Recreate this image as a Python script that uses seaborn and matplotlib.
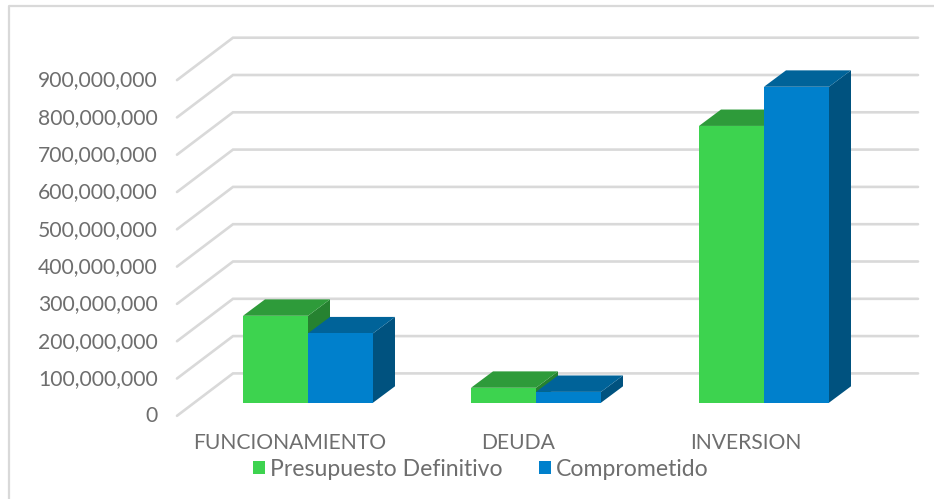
import matplotlib
matplotlib.use("Agg")
import matplotlib.pyplot as plt
from matplotlib.patches import Polygon, Rectangle
from matplotlib.lines import Line2D
from matplotlib.transforms import ScaledTranslation
import pandas as pd
import seaborn as sns

categories = ["FUNCIONAMIENTO", "DEUDA", "INVERSION"]
presupuesto = [233000000, 40000000, 742000000]
comprometido = [186000000, 29000000, 847000000]
series_names = ["Presupuesto Definitivo", "Comprometido"]
tick_values = [0, 100000000, 200000000, 300000000, 400000000, 500000000,
               600000000, 700000000, 800000000, 900000000]
front_colors = ["#3DD34F", "#0080CC"]
top_colors = ["#2E9B3A", "#006399"]
side_colors = ["#268230", "#00527F"]
GRID = "#D9D9D9"
TEXT = "#6E6E6E"

W, H = 934, 499
sns.set_theme(style="white")
plt.rcParams["font.family"] = ["Lato", "DejaVu Sans"]

fig = plt.figure(figsize=(W / 100, H / 100), dpi=100)
L, R, T, B = 177, 918, 37.7, 416
ax = fig.add_axes([L / W, 1 - B / H, (R - L) / W, (B - T) / H])

df = pd.DataFrame({
    "cat": categories * 2,
    "serie": [series_names[0]] * 3 + [series_names[1]] * 3,
    "valor": presupuesto + comprometido,
})
sns.barplot(data=df, x="cat", y="valor", hue="serie", order=categories,
            hue_order=series_names, palette=front_colors, saturation=1,
            width=130 / 228, gap=0, dodge=True, legend=False, ax=ax, zorder=5,
            linewidth=0, edgecolor="none")

PX_X = 1 / 228          # category units per pixel
PX_Y = 1e8 / 37.3       # value units per pixel
BASE = 402.7
ax.set_xlim((L - 308) * PX_X, (R - 308) * PX_X)
ax.set_ylim((BASE - B) * PX_Y, (BASE - T) * PX_Y)

# walls: floor-to-back gridlines
x0 = ax.get_xlim()[0]
x1 = ax.get_xlim()[1]
for v in tick_values:
    front_y = v + (BASE - 415.8) * PX_Y
    back_y = v + (BASE - 373.4) * PX_Y
    ax.plot([x0, x0 + 56 * PX_X, x1], [front_y, back_y, back_y],
            color=GRID, lw=1.9, zorder=1, clip_on=False, solid_joinstyle="miter")

# 3D faces derived from the bars that seaborn drew
ddx, ddy = 22 * PX_X, 16.4 * PX_Y
z = 5
groups = list(ax.containers)
for i in range(len(categories)):
    for g, cont in enumerate(groups):
        bar = cont.patches[i]
        xa, w, h = bar.get_x(), bar.get_width(), bar.get_height()
        xb = xa + w
        side = Polygon([(xb, 0), (xb + ddx, ddy), (xb + ddx, h + ddy), (xb, h)],
                       closed=True, fc=side_colors[g], ec="none", zorder=z)
        top = Polygon([(xa, h), (xa + ddx, h + ddy), (xb + ddx, h + ddy), (xb, h)],
                      closed=True, fc=top_colors[g], ec="none", zorder=z)
        ax.add_patch(side)
        ax.add_patch(top)
        bar.set_zorder(z + 0.5)
        z += 1

ax.set_xlabel("")
ax.set_ylabel("")
ax.set_yticks(tick_values)
ax.set_yticklabels([f"{v:,}" for v in tick_values])
ax.set_xticks(range(len(categories)))
ax.set_xticklabels(categories)
ax.tick_params(axis="y", length=0, pad=14, labelsize=15.2, labelcolor=TEXT)
ax.tick_params(axis="x", length=0, pad=12.5, labelsize=15.2, labelcolor=TEXT)
for s in ax.spines.values():
    s.set_visible(False)
ax.patch.set_alpha(0)
ax.grid(False)

shift_y = ScaledTranslation(0, -11.5 / 100, fig.dpi_scale_trans)
for lab in ax.get_yticklabels():
    lab.set_transform(lab.get_transform() + shift_y)
shift_x = ScaledTranslation(-18 / 100, 0, fig.dpi_scale_trans)
for lab in ax.get_xticklabels():
    lab.set_transform(lab.get_transform() + shift_x)

handles = [Rectangle((0, 0), 1, 1, fc=c, ec="none") for c in front_colors]
fig.legend(handles, series_names, loc="center", bbox_to_anchor=(481 / W, 1 - 469 / H),
           ncol=2, frameon=False, fontsize=16.6, labelcolor=TEXT, handlelength=0.52,
           handleheight=0.52, handletextpad=0.22, columnspacing=1.55, borderpad=0)

# chart frame
fig.add_artist(Line2D([8.5 / W, 8.5 / W, 1], [0, 1 - 6 / H, 1 - 6 / H],
                      transform=fig.transFigure, color=GRID, lw=1.6))

fig.savefig("out.png", dpi=100, facecolor="white")
